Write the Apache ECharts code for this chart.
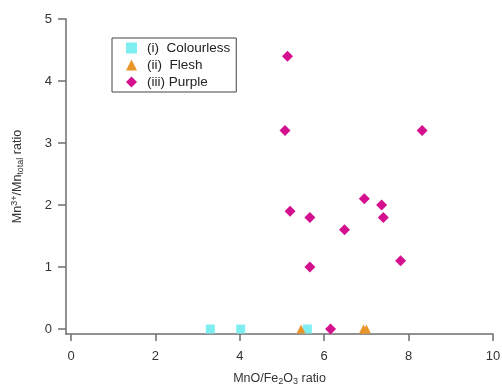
<!DOCTYPE html>
<html>
<head>
<meta charset="utf-8">
<script src="https://cdn.jsdelivr.net/npm/echarts@6/dist/echarts.min.js"></script>
<style>html,body{margin:0;padding:0;background:#fff;}#c{width:502px;height:385px;}</style>
</head>
<body>
<div id="c"></div>
<script>
var xTicks = [0, 2, 4, 6, 8, 10];
var yTicks = [0, 1, 2, 3, 4, 5];
var colourless = [[3.3, 0], [4.02, 0], [5.6, 0]];
var flesh = [[5.45, 0], [6.93, 0], [7.0, 0]];
var purple = [[5.13, 4.4], [5.07, 3.2], [8.32, 3.2], [6.95, 2.1], [7.36, 2.0], [5.19, 1.9],
              [5.66, 1.8], [7.4, 1.8], [6.48, 1.6], [7.81, 1.1], [5.66, 1.0], [6.15, 0]];
var seriesNames = ['(i)  Colourless', '(ii)  Flesh', '(iii) Purple'];

var chart = echarts.init(document.getElementById('c'));
var axisCol = '#6e6e6e';
var lblCol = '#333';
var ff = 'Liberation Sans, Arial, sans-serif';
chart.setOption({
  animation: false,
  backgroundColor: '#fff',
  grid: {left: 66, right: 9, top: 19, bottom: 51, containLabel: false, outerBoundsMode: 'none'},
  legend: {
    orient: 'vertical', left: 112, top: 38,
    borderColor: '#444', borderWidth: 1, padding: [3, 6, 3, 14],
    itemWidth: 11, itemHeight: 11, itemGap: 3,
    textStyle: {fontFamily: ff, fontSize: 13.5, color: '#222', padding: [0, 0, 0, 5]},
    data: [
      {name: seriesNames[0], icon: 'rect'},
      {name: seriesNames[1], icon: 'triangle'},
      {name: seriesNames[2], icon: 'diamond'}
    ]
  },
  xAxis: {
    type: 'value', min: -0.12, max: 10,
    axisLine: {show: true, onZero: false, lineStyle: {color: axisCol, width: 1.5}},
    axisTick: {show: true, inside: false, length: 7, customValues: xTicks, lineStyle: {color: axisCol, width: 1.5}},
    axisLabel: {customValues: xTicks, color: lblCol, fontFamily: ff, fontSize: 13, margin: 16},
    splitLine: {show: false},
    name: '{a|MnO/Fe}{s|2}{a|O}{s|3}{a| ratio}',
    nameLocation: 'middle', nameGap: 37,
    nameTextStyle: {rich: {
      a: {fontFamily: ff, fontSize: 12.5, color: lblCol},
      s: {fontFamily: ff, fontSize: 9, color: lblCol, verticalAlign: 'bottom', padding: [6, 0, 0, 0]}
    }}
  },
  yAxis: {
    type: 'value', min: -0.08, max: 5,
    axisLine: {show: true, onZero: false, lineStyle: {color: axisCol, width: 1.5}},
    axisTick: {show: true, inside: false, length: 8, customValues: yTicks, lineStyle: {color: axisCol, width: 1.5}},
    axisLabel: {customValues: yTicks, color: lblCol, fontFamily: ff, fontSize: 13, margin: 14},
    splitLine: {show: false},
    name: '{a|Mn}{p|3+}{a|/Mn}{s|total}{a| ratio}',
    nameLocation: 'middle', nameGap: 41, nameRotate: 90,
    nameTextStyle: {rich: {
      a: {fontFamily: ff, fontSize: 12.5, color: lblCol},
      p: {fontFamily: ff, fontSize: 9, color: lblCol, verticalAlign: 'top', padding: [0, 0, 6, 0]},
      s: {fontFamily: ff, fontSize: 9, color: lblCol, verticalAlign: 'bottom', padding: [6, 0, 0, 0]}
    }}
  },
  series: [
    {name: seriesNames[0], type: 'scatter', data: colourless, symbol: 'rect', symbolSize: 9,
     itemStyle: {color: '#7eeef0', opacity: 1}},
    {name: seriesNames[1], type: 'scatter', data: flesh, symbol: 'triangle', symbolSize: 9,
     itemStyle: {color: '#e8962c', opacity: 1}},
    {name: seriesNames[2], type: 'scatter', data: purple, symbol: 'diamond', symbolSize: 11,
     itemStyle: {color: '#d4108f', opacity: 1}}
  ]
});
</script>
</body>
</html>
